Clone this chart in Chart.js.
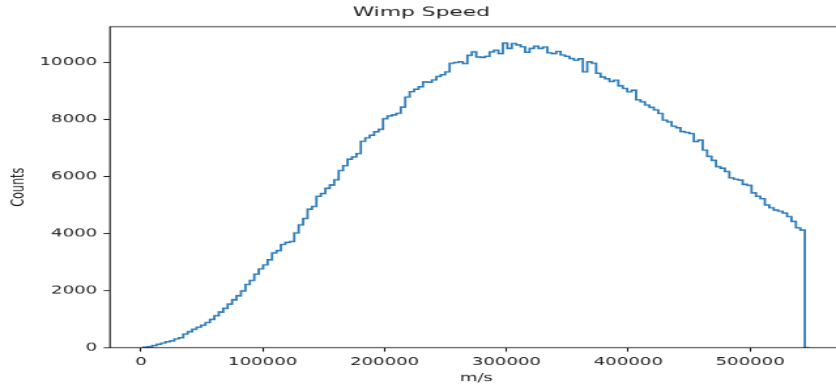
<!DOCTYPE html>
<html>
<head>
<meta charset="utf-8">
<title>Wimp Speed</title>
<script src="https://cdn.jsdelivr.net/npm/chart.js@4/dist/chart.umd.min.js"></script>
<style>
    html, body { margin: 0; padding: 0; background: #fff; overflow: hidden; }
    #wrap {
        width: 650px; height: 480px;
        transform: scale(1.30625, 0.80417);
        transform-origin: 0 0;
    }
</style>
</head>
<body>
<div id="wrap"><canvas id="speedChart" width="650" height="480"></canvas></div>
<script>
// ── Histogram data ──
const speedMin = 2000;      // m/s, left edge of first bin
const speedMax = 548500;    // m/s, right edge of last bin
const counts = [
    5, 20, 45, 80, 120, 160, 210, 240, 310, 350,
    480, 560, 650, 720, 790, 880, 990, 1120, 1250, 1380,
    1530, 1680, 1820, 1990, 2220, 2360, 2580, 2760, 2900, 3080,
    3320, 3400, 3620, 3690, 3720, 4020, 4300, 4530, 4850, 4950,
    5300, 5400, 5580, 5700, 5880, 6200, 6380, 6600, 6680, 6800,
    7230, 7350, 7440, 7560, 7650, 8020, 8120, 8150, 8210, 8430,
    8780, 8970, 9050, 9140, 9310, 9300, 9380, 9500, 9560, 9660,
    9960, 9990, 10010, 9950, 10240, 10360, 10180, 10170, 10200, 10360,
    10420, 10300, 10670, 10480, 10650, 10600, 10540, 10340, 10480, 10560,
    10480, 10530, 10330, 10300, 10380, 10250, 10200, 10130, 10070, 10120,
    9660, 10010, 9960, 9610, 9480, 9420, 9320, 9370, 9170, 9080,
    8960, 9020, 8680, 8610, 8500, 8420, 8330, 8200, 7970, 7910,
    7760, 7700, 7570, 7540, 7500, 7220, 7270, 6920, 6700, 6560,
    6340, 6290, 6170, 5950, 5900, 5870, 5720, 5690, 5420, 5300,
    5220, 5000, 4900, 4820, 4780, 4720, 4590, 4420, 4200, 4120
];
const xTicks = [0, 100000, 200000, 300000, 400000, 500000];
const yTicks = [0, 2000, 4000, 6000, 8000, 10000];

// step outline: rise at first edge, flat across each bin, drop at last edge
const binWidth = (speedMax - speedMin) / counts.length;
const stepPoints = [{ x: speedMin, y: 0 }];
counts.forEach((c, i) => stepPoints.push({ x: speedMin + i * binWidth, y: c }));
stepPoints.push({ x: speedMax, y: 0 });

const margin = 0.05 * (speedMax - speedMin);
const font = { family: "'DejaVu Sans', sans-serif", size: 13.9 };
const textColor = '#222';

// frame round the plot area (all four spines)
const framePlugin = {
    id: 'frame',
    afterDraw(chart) {
        const { ctx, chartArea: a } = chart;
        ctx.save();
        ctx.strokeStyle = '#111';
        ctx.lineWidth = 1.1;
        ctx.strokeRect(a.left, a.top, a.right - a.left, a.bottom - a.top);
        ctx.restore();
    }
};

const axisGrid = {
    drawOnChartArea: false,
    drawTicks: true,
    tickLength: 4.9,
    tickColor: '#111',
    tickWidth: 1.1
};

new Chart(document.getElementById('speedChart'), {
    type: 'line',
    data: {
        datasets: [{
            data: stepPoints,
            stepped: 'after',
            borderColor: '#2b7bba',
            borderWidth: 1.8,
            pointRadius: 0,
            fill: false
        }]
    },
    options: {
        responsive: false,
        animation: false,
        devicePixelRatio: 1,
        layout: { padding: { left: 0, right: 5, top: 0, bottom: 0 } },
        plugins: {
            legend: { display: false },
            tooltip: { enabled: false },
            title: {
                display: true,
                text: 'Wimp Speed',
                color: textColor,
                font: { family: font.family, size: 16.7, weight: 'normal' },
                padding: { top: 6, bottom: 7.2 }
            }
        },
        scales: {
            x: {
                type: 'linear',
                min: speedMin - margin,
                max: speedMax + margin,
                grid: axisGrid,
                border: { display: false },
                afterBuildTicks: s => { s.ticks = xTicks.map(v => ({ value: v })); },
                afterFit: s => { s.height = 47.6; },
                ticks: {
                    color: textColor, font, padding: 4.9, maxRotation: 0,
                    callback: v => String(v)
                },
                title: {
                    display: true, text: 'm/s', color: textColor, font,
                    padding: { top: 0, bottom: 1.7 }
                }
            },
            y: {
                min: 0,
                max: 11240,
                grid: axisGrid,
                border: { display: false },
                afterBuildTicks: s => { s.ticks = yTicks.map(v => ({ value: v })); },
                afterFit: s => { s.width = 84.2; },
                ticks: {
                    color: textColor, font, padding: 4.9,
                    callback: v => String(v)
                },
                title: {
                    display: true, text: 'Counts', color: textColor, font,
                    padding: { top: 6.5, bottom: 0 }
                }
            }
        }
    },
    plugins: [framePlugin]
});
</script>
</body>
</html>
